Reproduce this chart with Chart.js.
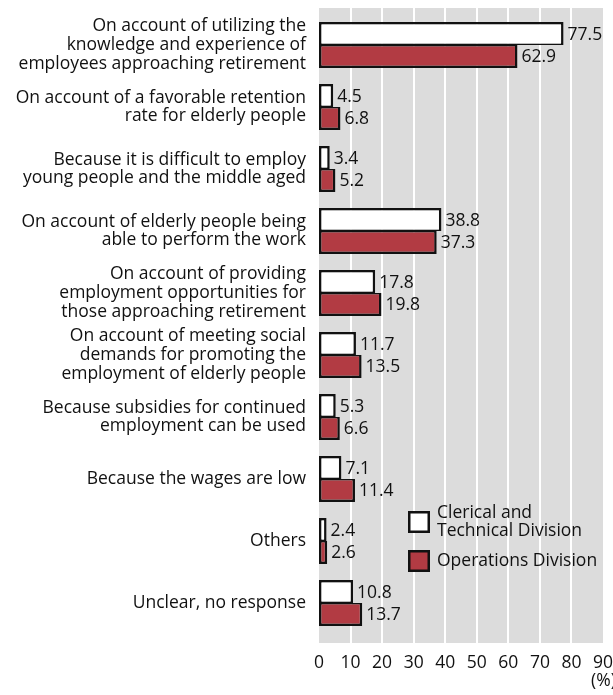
<!DOCTYPE html>
<html>
<head>
<meta charset="utf-8">
<script src="https://cdn.jsdelivr.net/npm/chart.js@4/dist/chart.umd.min.js"></script>
<style>
    html, body { margin: 0; padding: 0; background: #fff; }
    #wrap { width: 613px; height: 695px; position: relative; }
</style>
</head>
<body>
<div id="wrap"><canvas id="reasonsChart"></canvas></div>
<script>
const reasons = [
    ['On account of utilizing the', 'knowledge and experience of', 'employees approaching retirement'],
    ['On account of a favorable retention', 'rate for elderly people'],
    ['Because it is difficult to employ', 'young people and the middle aged'],
    ['On account of elderly people being', 'able to perform the work'],
    ['On account of providing', 'employment opportunities for', 'those approaching retirement'],
    ['On account of meeting social', 'demands for promoting the', 'employment of elderly people'],
    ['Because subsidies for continued', 'employment can be used'],
    'Because the wages are low',
    'Others',
    'Unclear, no response',
];
const clericalValues = [77.5, 4.5, 3.4, 38.8, 17.8, 11.7, 5.3, 7.1, 2.4, 10.8];
const operationsValues = [62.9, 6.8, 5.2, 37.3, 19.8, 13.5, 6.6, 11.4, 2.6, 13.7];
const seriesNames = [['Clerical and', 'Technical Division'], ['Operations Division']];
const axisTicks = [0, 10, 20, 30, 40, 50, 60, 70, 80, 90];
const unitLabel = '(%)';

const FONT = '"Open Sans", "Noto Sans", sans-serif';
const SIZE = 17.5;
const RED = '#b23b43';

// gray panel with white vertical rules behind the bars
const panelPlugin = {
    id: 'panel',
    beforeDraw(chart) {
        const { ctx, chartArea: a, scales } = chart;
        ctx.save();
        ctx.fillStyle = '#dcdcdc';
        ctx.fillRect(a.left, a.top - 6, a.right - a.left, a.bottom - a.top + 15);
        ctx.strokeStyle = '#fff';
        ctx.lineWidth = 2;
        axisTicks.slice(1, -1).forEach(t => {
            const x = Math.round(scales.x.getPixelForValue(t));
            ctx.beginPath();
            ctx.moveTo(x, a.top - 6);
            ctx.lineTo(x, a.bottom + 9);
            ctx.stroke();
        });
        ctx.restore();
    },
};

// numbers next to the bar ends, legend box and unit label
const annotatePlugin = {
    id: 'annotate',
    afterDatasetsDraw(chart) {
        const { ctx, chartArea: a } = chart;
        ctx.save();
        ctx.font = SIZE + 'px ' + FONT;
        ctx.fillStyle = '#111';
        ctx.textBaseline = 'middle';
        ctx.textAlign = 'left';
        chart.data.datasets.forEach((ds, i) => {
            chart.getDatasetMeta(i).data.forEach((bar, j) => {
                ctx.fillText(ds.data[j].toFixed(1), bar.x + 4, bar.y + 1);
            });
        });

        const lx = a.left + 89;
        let ly = 511;
        chart.data.datasets.forEach((ds, i) => {
            ctx.fillStyle = ds.backgroundColor;
            ctx.fillRect(lx, ly, 22, 22);
            ctx.strokeStyle = '#111';
            ctx.lineWidth = 2.5;
            ctx.strokeRect(lx + 1.25, ly + 1.25, 19.5, 19.5);
            ctx.fillStyle = '#111';
            const lines = seriesNames[i];
            const top = ly + 11 - (lines.length - 1) * 18 / 2;
            lines.forEach((t, k) => ctx.fillText(t, lx + 29, top + k * 18));
            ly += 39;
        });

        ctx.fillText(unitLabel, a.right - 12, a.bottom + 47);
        ctx.restore();
    },
};

new Chart(document.getElementById('reasonsChart'), {
    type: 'bar',
    data: {
        labels: reasons,
        datasets: [
            {
                label: seriesNames[0].join(' '),
                data: clericalValues,
                backgroundColor: '#ffffff',
                borderColor: '#111',
                borderWidth: { top: 2.5, left: 2.5, right: 2.5, bottom: 1.5 },
                borderSkipped: false,
            },
            {
                label: seriesNames[1].join(' '),
                data: operationsValues,
                backgroundColor: RED,
                borderColor: '#111',
                borderWidth: { top: 1.5, left: 2.5, right: 2.5, bottom: 2.5 },
                borderSkipped: false,
            },
        ],
    },
    options: {
        indexAxis: 'y',
        responsive: true,
        maintainAspectRatio: false,
        animation: false,
        categoryPercentage: 0.74,
        barPercentage: 1,
        layout: { padding: { top: 14, right: 10, left: 0, bottom: 0 } },
        plugins: {
            legend: { display: false },
            tooltip: { enabled: false },
        },
        scales: {
            x: {
                min: 0,
                max: 90,
                afterBuildTicks(scale) {
                    scale.ticks = axisTicks.map(v => ({ value: v }));
                },
                afterFit(scale) {
                    scale.height = 61;
                    scale.paddingLeft = 0;
                    scale.paddingRight = 0;
                },
                grid: { display: false, drawTicks: false },
                border: { display: false },
                ticks: {
                    color: '#111',
                    padding: 19,
                    maxRotation: 0,
                    autoSkip: false,
                    font: { family: FONT, size: SIZE },
                },
            },
            y: {
                afterFit(scale) {
                    scale.width = 319;
                    scale.paddingTop = 0;
                    scale.paddingBottom = 0;
                },
                grid: { display: false, drawTicks: false },
                border: { display: false },
                ticks: {
                    color: '#111',
                    padding: 13,
                    autoSkip: false,
                    font: { family: FONT, size: SIZE, lineHeight: 1.06 },
                },
            },
        },
    },
    plugins: [panelPlugin, annotatePlugin],
});
</script>
</body>
</html>
